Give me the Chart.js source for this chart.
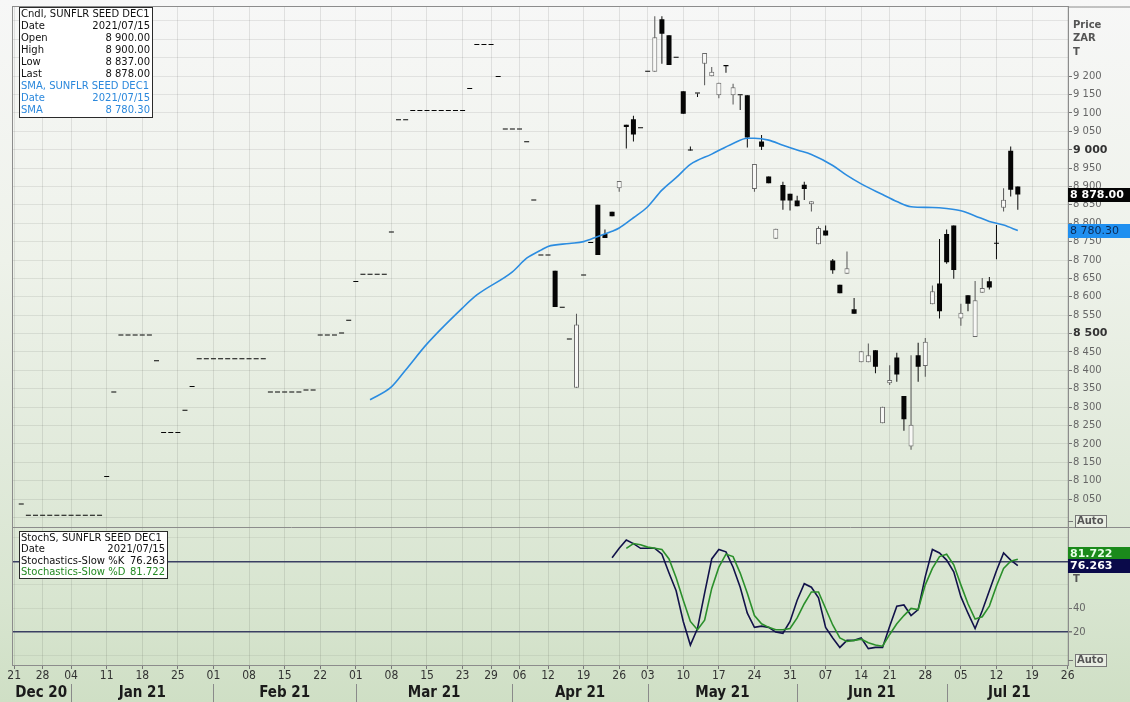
<!DOCTYPE html>
<html>
<head>
<meta charset="utf-8">
<script src="https://cdn.jsdelivr.net/npm/chart.js@4.4.1/dist/chart.umd.min.js"></script>
<style>
html, body { margin: 0; padding: 0; }
body { width: 1130px; height: 702px; overflow: hidden;
  background: linear-gradient(to bottom, #f7f7f7 0px, #eef2ea 260px, #e1eadb 460px, #d8e5d0 600px, #cfdfc5 702px); }
canvas { display: block; }
</style>
</head>
<body>
<canvas id="c" width="1130" height="702"></canvas>
<script>
// x axis = trading day number, 0 = Mon 21 Dec 2020
var weekDays   = [0,4,8,13,18,23,28,33,38,43,48,53,58,63,67,71,75,80,85,89,94,99,104,109,114,119,123,128,133,138,143,148];
var weekLabels = ['21','28','04','11','18','25','01','08','15','22','01','08','15','23','29','06','12','19','26','03','10','17','24','31','07','14','21','28','05','12','19','26'];
var monthStarts = [8,28,48,70,89,110,131];
var monthMids   = [3.8,18,38,59,79.5,99.5,120.5,139.8];
var monthLabels = ['Dec 20','Jan 21','Feb 21','Mar 21','Apr 21','May 21','Jun 21','Jul 21'];
var stochTicks  = [0,20,40,60,80,100];
var stochLabels = ['','20','40','','',''];

// days with settlement only (drawn as a dash)
var settleDays = [];
for (var i = 1; i <= 75; i++) settleDays.push(i);
var settlePrice = [8035,
  8005,8005,8005,8005,8005,8005,8005,8005,8005,8005,8005,
  8110,8340,8495,8495,8495,8495,8495,8425,8230,8230,8230,8290,8355,
  8430,8430,8430,8430,8430,8430,8430,8430,8430,8430,
  8340,8340,8340,8340,8340,8345,8345,8495,8495,8495,8500,8535,
  8640,8660,8660,8660,8660,8775,9080,9080,
  9105,9105,9105,9105,9105,9105,9105,9105,
  9165,9285,9285,9285,9198,9055,9055,9055,9020,8862,8712,8712];

// traded days
var candleDays = [];
for (var j = 76; j <= 141; j++) candleDays.push(j);
var candleOpen  = [8671,8570,8484,8353,8658,8746,8850,8771,8831,8895,9068,9083,9058,9212,9212,9355,9311,9250,9159,8998,9153,9234,9200,9148,9230,9148,9148,9148,8893,9022,8927,8758,8904,8880,8862,8905,8852,8743,8780,8699,8633,8663,8566,8422,8422,8455,8256,8365,8435,8330,8193,8441,8412,8580,8636,8771,8794,8541,8604,8491,8611,8642,8744,8842,8997,8900];
var candleHigh  = [8671,8570,8484,8554,8658,8746,8850,8783,8831,8915,9068,9092,9058,9212,9363,9363,9311,9250,9159,9009,9153,9263,9225,9182,9230,9179,9148,9148,8961,9040,8927,8785,8913,8880,8875,8913,8860,8792,8794,8703,8633,8723,8597,8452,8473,8455,8301,8414,8448,8330,8441,8475,8488,8631,8757,8783,8794,8581,8604,8643,8651,8654,8795,8895,9009,8900];
var candleLow   = [8572,8570,8484,8353,8658,8746,8714,8760,8819,8886,9003,9022,9058,9212,9212,9234,9230,9250,9098,8998,9143,9175,9200,9140,9209,9123,9108,9006,8886,8999,8909,8758,8837,8835,8846,8863,8832,8743,8767,8663,8610,8663,8554,8422,8422,8392,8256,8360,8369,8236,8184,8369,8383,8580,8541,8690,8649,8521,8561,8491,8611,8620,8702,8832,8873,8837];
var candleClose = [8572,8570,8484,8525,8658,8746,8714,8760,8819,8915,9062,9041,9058,9212,9306,9315,9230,9250,9098,8998,9153,9263,9212,9182,9227,9170,9148,9033,8961,9008,8909,8785,8862,8862,8846,8893,8860,8787,8767,8672,8610,8678,8554,8452,8441,8410,8301,8374,8389,8267,8252,8410,8478,8615,8561,8694,8673,8557,8581,8591,8624,8625,8744,8864,8891,8878];

var smaDays   = [50,53,55,58,63,65,70,72,74,75,78,80,82,84,85,87,89,91,93,95,98,101,103,104,106,108,110,112,115,117,119,122,124,126,129,131,133,135,137,139,141];
var smaValues = [8320,8355,8401,8472,8570,8605,8668,8705,8727,8737,8745,8750,8764,8778,8787,8815,8845,8890,8924,8960,8988,9017,9031,9031,9026,9012,8999,8987,8957,8930,8907,8878,8859,8845,8843,8840,8834,8820,8805,8795,8780.3];

var kDays = [];
for (var a = 84; a <= 141; a++) kDays.push(a);
var kValues = [83,91,98,95,91,91,91,86,70,55,29,9,23,53,82,90,88,75,58,36,24,25,24,20,19,29,47,61,58,49,24,15,7,13,13,15,6,7,7,25,42,43,34,39,67,90,87,81,71,50,36,23,38,55,72,87,81,76.263];
var dDays = [];
for (var b = 86; b <= 141; b++) dDays.push(b);
var dValues = [91,95,94,92,91,90,82,66,47,29,22,30,57,75,86,84,70,53,34,27,24,22,22,23,32,44,54,54,40,26,15,12,13,14,11,9,8,18,27,34,40,39,60,74,84,86,77,60,44,31,33,42,59,74,80,81.722];

var NARROW = "'Liberation Sans Narrow','DejaVu Sans Condensed','Arial Narrow',sans-serif";
var UI = "'DejaVu Sans',Verdana,sans-serif";

// build the datasets
var bodies = [], bodyUp = [], wicks = [], wickUp = [];
settleDays.forEach(function (d, k) {
  bodies.push({x: d, y: [settlePrice[k], settlePrice[k]]});
  bodyUp.push(false);
});
candleDays.forEach(function (d, k) {
  var up = candleClose[k] > candleOpen[k];
  bodies.push({x: d, y: [candleOpen[k], candleClose[k]]});
  bodyUp.push(up);
  if (candleHigh[k] > candleLow[k]) {
    wicks.push({x: d, y: [candleLow[k], candleHigh[k]]});
    wickUp.push(up);
  }
});

function fmtPrice(v) {
  var t = Math.floor(v / 1000), r = String(Math.round(v % 1000));
  while (r.length < 3) r = '0' + r;
  return t + ' ' + r;
}
function shownPrice(v) { return v >= 8050 && v <= 9200; }

var decor = {
  id: 'decor',
  afterDraw: function (chart) {
    var c = chart.ctx, A = chart.chartArea, sx = chart.scales.x, sy = chart.scales.y, s2 = chart.scales.y2;
    c.save();
    // frames
    c.strokeStyle = '#8c8c8c';
    c.lineWidth = 1;
    c.strokeRect(A.left + 0.5, A.top - 0.5, A.right - A.left, A.bottom - A.top + 1);
    c.beginPath();
    c.moveTo(A.left, Math.round(sy.bottom) + 0.5); c.lineTo(1130, Math.round(sy.bottom) + 0.5);
    c.moveTo(A.right, A.top); c.lineTo(1130, A.top);
    c.stroke();
    // month separators
    c.strokeStyle = '#8a8a8a';
    c.beginPath();
    monthStarts.forEach(function (d) {
      var px = Math.round(sx.getPixelForValue(d)) + 0.5;
      c.moveTo(px, 684); c.lineTo(px, 702);
    });
    c.stroke();

    function legendBox(x, y, w, h) {
      c.fillStyle = '#ffffff';
      c.fillRect(x, y, w, h);
      c.strokeStyle = '#2a2a2a';
      c.strokeRect(x + 0.5, y + 0.5, w, h);
    }
    function row(label, value, yy, color, right) {
      c.fillStyle = color;
      c.textBaseline = 'middle';
      c.textAlign = 'left';
      c.fillText(label, 21, yy);
      if (value) { c.textAlign = 'right'; c.fillText(value, right, yy); }
    }
    // price legend
    c.font = '10px ' + UI;
    legendBox(19, 7, 133, 110);
    var ink = '#111111', blue = '#2b88dc';
    row('Cndl, SUNFLR SEED DEC1', '', 14, ink, 150);
    row('Date', '2021/07/15', 26, ink, 150);
    row('Open', '8 900.00', 38, ink, 150);
    row('High', '8 900.00', 50, ink, 150);
    row('Low', '8 837.00', 62, ink, 150);
    row('Last', '8 878.00', 74, ink, 150);
    row('SMA, SUNFLR SEED DEC1', '', 86, blue, 150);
    row('Date', '2021/07/15', 98, blue, 150);
    row('SMA', '8 780.30', 110, blue, 150);

    // stochastic legend
    legendBox(19, 531, 148, 47);
    row('StochS, SUNFLR SEED DEC1', '', 538, ink, 165);
    row('Date', '2021/07/15', 549.5, ink, 165);
    row('Stochastics-Slow %K', '76.263', 561, ink, 165);
    row('Stochastics-Slow %D', '81.722', 572.5, '#238a23', 165);

    // right axis captions
    c.fillStyle = '#555555';
    c.font = 'bold 10px ' + UI;
    c.textAlign = 'left';
    c.fillText('Price', 1073, 25);
    c.fillText('ZAR', 1073, 38);
    c.fillText('T', 1073, 52);
    c.fillText('T', 1073, 579);

    function autoBox(yy) {
      c.fillStyle = 'rgba(235,240,230,0.9)';
      c.fillRect(1075, yy - 6, 31, 13);
      c.strokeStyle = '#777';
      c.strokeRect(1075.5, yy - 5.5, 31, 12);
      c.fillStyle = '#555';
      c.font = 'bold 10px ' + UI;
      c.textAlign = 'left';
      c.fillText('Auto', 1077, yy + 0.5);
      c.beginPath(); c.moveTo(1068, yy + 0.5); c.lineTo(1073, yy + 0.5); c.stroke();
    }
    autoBox(521);
    autoBox(660);

    function valueBox(yy, bg, fg, text) {
      c.fillStyle = bg;
      c.fillRect(1068, Math.round(yy) - 7, 62, 14);
      c.fillStyle = fg;
      c.font = 'bold 11px ' + UI;
      c.textAlign = 'left';
      c.fillText(text, 1070, Math.round(yy) + 0.5);
    }
    valueBox(sy.getPixelForValue(candleClose[candleClose.length - 1]), '#050505', '#ffffff', '8 878.00');
    var ys = Math.round(sy.getPixelForValue(smaValues[smaValues.length - 1]));
    c.fillStyle = '#1f8ff0';
    c.fillRect(1068, ys - 7, 62, 14);
    c.font = '11px ' + UI;
    c.fillStyle = '#0b2a55';
    c.fillText('8 780.30', 1070, ys + 0.5);
    var yk = s2.getPixelForValue(kValues[kValues.length - 1]);
    var yd = Math.min(s2.getPixelForValue(dValues[dValues.length - 1]), yk - 12);
    valueBox(yd, '#1b8a1b', '#e8ffe8', '81.722');
    valueBox(yk, '#0a0a4a', '#ffffff', '76.263');
    c.restore();
  }
};

new Chart(document.getElementById('c'), {
  type: 'bar',
  data: {
    datasets: [
      { type: 'line', label: 'SMA', data: smaDays.map(function (d, k) { return {x: d, y: smaValues[k]}; }),
        yAxisID: 'y', borderColor: '#2b8ce0', borderWidth: 1.6, pointRadius: 0, cubicInterpolationMode: 'monotone', fill: false },
      { type: 'line', label: '%D', data: dDays.map(function (d, k) { return {x: d, y: dValues[k]}; }),
        yAxisID: 'y2', borderColor: '#2b8f2b', borderWidth: 1.6, pointRadius: 0, tension: 0, fill: false },
      { type: 'line', label: '%K', data: kDays.map(function (d, k) { return {x: d, y: kValues[k]}; }),
        yAxisID: 'y2', borderColor: '#12124a', borderWidth: 1.6, pointRadius: 0, tension: 0, fill: false },
      { label: 'body', data: bodies, yAxisID: 'y', grouped: false, barThickness: 5, minBarLength: 1,
        borderSkipped: false, inflateAmount: 0,
        backgroundColor: function (ctx) { return bodyUp[ctx.dataIndex] ? '#f8f8f6' : '#050505'; },
        borderColor: function (ctx) { return bodyUp[ctx.dataIndex] ? '#6a6a6a' : '#050505'; },
        borderWidth: function (ctx) { return bodyUp[ctx.dataIndex] ? 1 : 0; } },
      { label: 'wick', data: wicks, yAxisID: 'y', grouped: false, barThickness: 1, borderWidth: 0, inflateAmount: 0,
        backgroundColor: function (ctx) { return wickUp[ctx.dataIndex] ? '#555555' : '#0a0a0a'; } }
    ]
  },
  options: {
    responsive: false,
    animation: false,
    devicePixelRatio: 1,
    layout: { padding: { left: 12, top: 5, right: 0, bottom: 0 } },
    plugins: { legend: { display: false }, tooltip: { enabled: false } },
    events: [],
    scales: {
      x: {
        type: 'linear', position: 'bottom', min: -0.3, max: 148.05, offset: false,
        afterBuildTicks: function (s) { s.ticks = weekDays.map(function (v) { return {value: v}; }); },
        afterFit: function (s) { s.height = 18; },
        grid: { color: 'rgba(0,0,0,0.09)', drawTicks: true, tickLength: 4, tickColor: '#777', offset: false },
        border: { display: false },
        ticks: { autoSkip: false, maxRotation: 0, padding: 0, color: '#333', font: { family: NARROW, size: 12 },
          callback: function (v, i) { return weekLabels[i]; } }
      },
      x2: {
        type: 'linear', position: 'bottom', min: -0.3, max: 148.05, offset: false,
        afterBuildTicks: function (s) { s.ticks = monthMids.map(function (v) { return {value: v}; }); },
        afterFit: function (s) { s.height = 19; },
        grid: { display: false, drawTicks: false },
        border: { display: false },
        ticks: { autoSkip: false, maxRotation: 0, padding: 1, color: '#1a1a1a', font: { family: NARROW, size: 15, weight: 'bold' },
          callback: function (v, i) { return monthLabels[i]; } }
      },
      y: {
        type: 'linear', position: 'right', stack: 'panes', stackWeight: 522, min: 7973, max: 9388,
        afterFit: function (s) { s.width = 62; },
        grid: { color: 'rgba(0,0,0,0.08)', drawTicks: true, tickLength: 4,
          tickColor: function (ctx) { return ctx.tick && shownPrice(ctx.tick.value) ? '#777' : 'rgba(0,0,0,0)'; } },
        border: { display: true, color: '#8c8c8c' },
        ticks: { stepSize: 50, includeBounds: false, padding: 1, autoSkip: false,
          color: function (ctx) { return ctx.tick.value % 500 === 0 ? '#333' : '#666'; },
          font: function (ctx) { return ctx.tick && ctx.tick.value % 500 === 0 ? { family: UI, size: 11, weight: 'bold' } : { family: UI, size: 10 }; },
          callback: function (v) { return shownPrice(v) ? fmtPrice(v) : ''; } }
      },
      y2: {
        type: 'linear', position: 'right', stack: 'panes', stackWeight: 138, min: -7.9, max: 108.7,
        afterFit: function (s) { s.width = 62; },
        afterBuildTicks: function (s) { s.ticks = stochTicks.map(function (v) { return {value: v}; }); },
        grid: {
          color: function (ctx) { var v = ctx.tick.value; return (v === 20 || v === 80) ? '#3a3f63' : 'rgba(0,0,0,0.06)'; },
          lineWidth: function (ctx) { var v = ctx.tick.value; return (v === 20 || v === 80) ? 1.5 : 1; },
          drawTicks: true, tickLength: 4,
          tickColor: function (ctx) { return stochLabels[ctx.index] ? '#777' : 'rgba(0,0,0,0)'; }
        },
        border: { display: true, color: '#8c8c8c' },
        ticks: { padding: 1, autoSkip: false, color: '#666', font: { family: UI, size: 10 },
          callback: function (v, i) { return stochLabels[i]; } }
      }
    }
  },
  plugins: [decor]
});
</script>
</body>
</html>
